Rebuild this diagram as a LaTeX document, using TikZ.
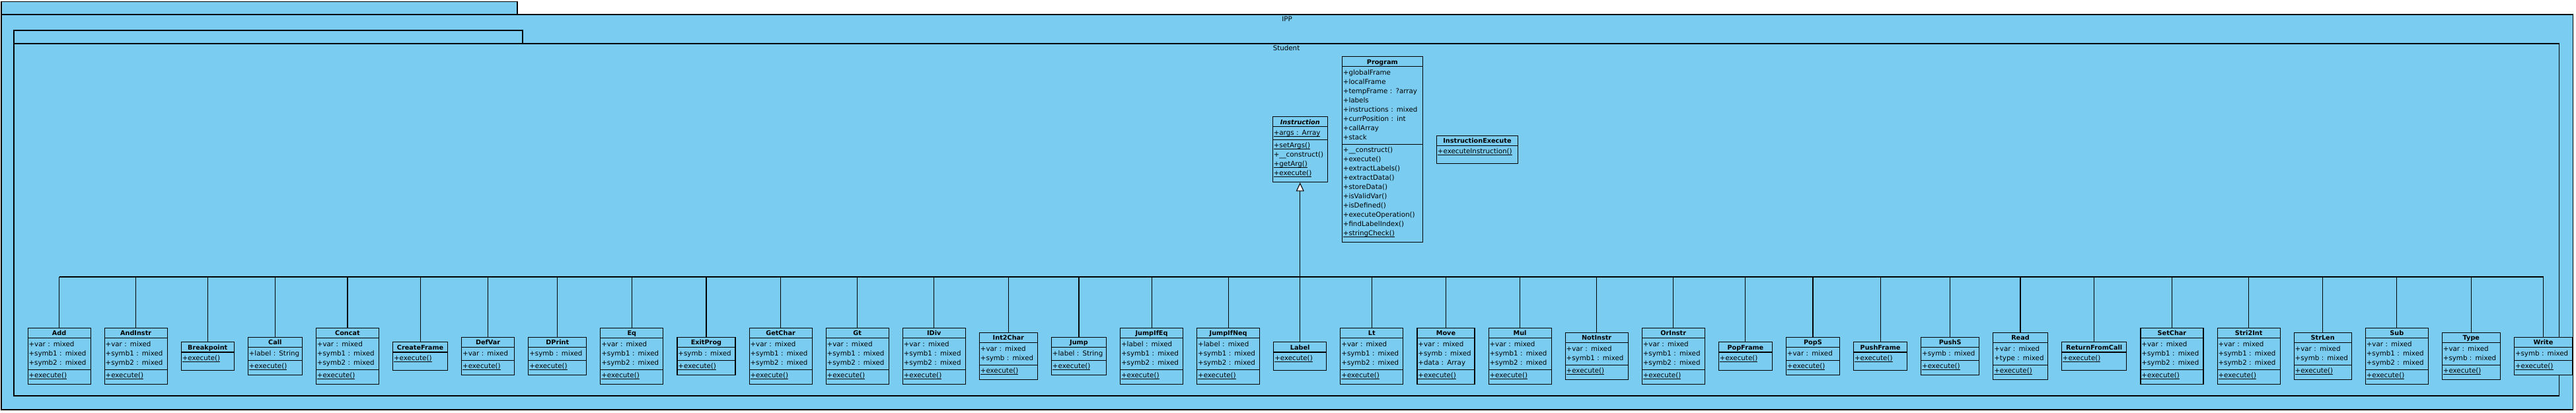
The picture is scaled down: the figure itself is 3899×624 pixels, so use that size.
\documentclass[tikz,border=0pt]{standalone}
\usepackage{fontspec}
\setmainfont{DejaVu Sans}
\usetikzlibrary{positioning, shapes.multipart, arrows.meta}
\definecolor{umlblue}{RGB}{122,205,241}

\newsavebox{\cstatbox}
\newcommand{\ctitle}[1]{\centering\rule[-3pt]{0pt}{14pt}{\fontsize{9.7}{14}\selectfont\bfseries #1}\par}
\newcommand{\cattr}[1]{\rule{0pt}{12.5pt}#1\rule[-6.5pt]{0pt}{0pt}}
\newcommand{\cops}[1]{\rule{0pt}{11.5pt}#1\rule[-9.5pt]{0pt}{0pt}}
\newcommand{\conly}[1]{\rule{0pt}{11.5pt}#1\rule[-14.5pt]{0pt}{0pt}}
\newcommand{\cstatic}[1]{\leavevmode\sbox\cstatbox{#1}\rlap{\rule[-2.5pt]{\wd\cstatbox}{0.9pt}}\usebox\cstatbox}

\begin{document}
\begin{tikzpicture}[
    x=1pt, y=-1pt,
    node distance=20pt,
    classbox/.style={draw, fill=umlblue, line width=1.1pt, rectangle split, rectangle split parts=3, inner xsep=1.5pt, inner ysep=0pt, align=left, font=\fontsize{10.3}{14}\selectfont},
    plainbox/.style={classbox, rectangle split parts=2},
    pkg/.style={draw, fill=umlblue, line width=1.1pt},
    pkgname/.style={inner sep=0pt, font=\fontsize{10.3}{12}\selectfont},
    link/.style={draw, line width=1.1pt},
    arrow/.style={-{Triangle[length=13pt, width=12pt, fill=white]}, line width=1.1pt}
]
\useasboundingbox (0,0) rectangle (3899,624);

% packages
\draw[pkg] (2,2.5) rectangle (783,22);
\draw[pkg] (2,22) rectangle (3894,620);
\node[pkgname] (ipp) at (1948,29) {IPP};
\draw[pkg] (21,46) rectangle (791,66);
\draw[pkg] (21,66) rectangle (3873,599);
\node[pkgname] (student) at (1947,73) {Student};

% instruction classes
\node[classbox, text width=92pt, anchor=west] (add) at (41.5,539) {\ctitle{Add}\nodepart{two}\cattr{+var : mixed\\+symb1 : mixed\\+symb2 : mixed}\nodepart{three}\cops{\cstatic{+execute()}}};
\node[classbox, text width=92pt, right=of add] (andinstr) {\ctitle{AndInstr}\nodepart{two}\cattr{+var : mixed\\+symb1 : mixed\\+symb2 : mixed}\nodepart{three}\cops{\cstatic{+execute()}}};
\node[plainbox, text width=77pt, right=of andinstr] (breakpoint) {\ctitle{Breakpoint}\nodepart{two}\conly{\cstatic{+execute()}}};
\node[classbox, text width=79pt, right=of breakpoint] (call) {\ctitle{Call}\nodepart{two}\cattr{+label : String}\nodepart{three}\cops{\cstatic{+execute()}}};
\node[classbox, text width=92pt, right=of call] (concat) {\ctitle{Concat}\nodepart{two}\cattr{+var : mixed\\+symb1 : mixed\\+symb2 : mixed}\nodepart{three}\cops{\cstatic{+execute()}}};
\node[plainbox, text width=80pt, right=of concat] (createframe) {\ctitle{CreateFrame}\nodepart{two}\conly{\cstatic{+execute()}}};
\node[classbox, text width=77pt, right=of createframe] (defvar) {\ctitle{DefVar}\nodepart{two}\cattr{+var : mixed}\nodepart{three}\cops{\cstatic{+execute()}}};
\node[classbox, text width=85pt, right=of defvar] (dprint) {\ctitle{DPrint}\nodepart{two}\cattr{+symb : mixed}\nodepart{three}\cops{\cstatic{+execute()}}};
\node[classbox, text width=92pt, right=of dprint] (eq) {\ctitle{Eq}\nodepart{two}\cattr{+var : mixed\\+symb1 : mixed\\+symb2 : mixed}\nodepart{three}\cops{\cstatic{+execute()}}};
\node[classbox, text width=85pt, right=of eq] (exitprog) {\ctitle{ExitProg}\nodepart{two}\cattr{+symb : mixed}\nodepart{three}\cops{\cstatic{+execute()}}};
\node[classbox, text width=92pt, right=of exitprog] (getchar) {\ctitle{GetChar}\nodepart{two}\cattr{+var : mixed\\+symb1 : mixed\\+symb2 : mixed}\nodepart{three}\cops{\cstatic{+execute()}}};
\node[classbox, text width=92pt, right=of getchar] (gt) {\ctitle{Gt}\nodepart{two}\cattr{+var : mixed\\+symb1 : mixed\\+symb2 : mixed}\nodepart{three}\cops{\cstatic{+execute()}}};
\node[classbox, text width=92pt, right=of gt] (idiv) {\ctitle{IDiv}\nodepart{two}\cattr{+var : mixed\\+symb1 : mixed\\+symb2 : mixed}\nodepart{three}\cops{\cstatic{+execute()}}};
\node[classbox, text width=85pt, right=of idiv] (int2char) {\ctitle{Int2Char}\nodepart{two}\cattr{+var : mixed\\+symb : mixed}\nodepart{three}\cops{\cstatic{+execute()}}};
\node[classbox, text width=80pt, right=of int2char] (jump) {\ctitle{Jump}\nodepart{two}\cattr{+label : String}\nodepart{three}\cops{\cstatic{+execute()}}};
\node[classbox, text width=92pt, right=of jump] (jumpifeq) {\ctitle{JumpIfEq}\nodepart{two}\cattr{+label : mixed\\+symb1 : mixed\\+symb2 : mixed}\nodepart{three}\cops{\cstatic{+execute()}}};
\node[classbox, text width=92pt, right=of jumpifeq] (jumpifneq) {\ctitle{JumpIfNeq}\nodepart{two}\cattr{+label : mixed\\+symb1 : mixed\\+symb2 : mixed}\nodepart{three}\cops{\cstatic{+execute()}}};
\node[plainbox, text width=77pt, right=of jumpifneq] (label) {\ctitle{Label}\nodepart{two}\conly{\cstatic{+execute()}}};
\node[classbox, text width=92pt, right=of label] (lt) {\ctitle{Lt}\nodepart{two}\cattr{+var : mixed\\+symb1 : mixed\\+symb2 : mixed}\nodepart{three}\cops{\cstatic{+execute()}}};
\node[classbox, text width=84pt, right=of lt] (move) {\ctitle{Move}\nodepart{two}\cattr{+var : mixed\\+symb : mixed\\+data : Array}\nodepart{three}\cops{\cstatic{+execute()}}};
\node[classbox, text width=92pt, right=of move] (mul) {\ctitle{Mul}\nodepart{two}\cattr{+var : mixed\\+symb1 : mixed\\+symb2 : mixed}\nodepart{three}\cops{\cstatic{+execute()}}};
\node[classbox, text width=92pt, right=of mul] (notinstr) {\ctitle{NotInstr}\nodepart{two}\cattr{+var : mixed\\+symb1 : mixed}\nodepart{three}\cops{\cstatic{+execute()}}};
\node[classbox, text width=92pt, right=of notinstr] (orinstr) {\ctitle{OrInstr}\nodepart{two}\cattr{+var : mixed\\+symb1 : mixed\\+symb2 : mixed}\nodepart{three}\cops{\cstatic{+execute()}}};
\node[plainbox, text width=78pt, right=of orinstr] (popframe) {\ctitle{PopFrame}\nodepart{two}\conly{\cstatic{+execute()}}};
\node[classbox, text width=78pt, right=of popframe] (pops) {\ctitle{PopS}\nodepart{two}\cattr{+var : mixed}\nodepart{three}\cops{\cstatic{+execute()}}};
\node[plainbox, text width=78pt, right=of pops] (pushframe) {\ctitle{PushFrame}\nodepart{two}\conly{\cstatic{+execute()}}};
\node[classbox, text width=85pt, right=of pushframe] (pushs) {\ctitle{PushS}\nodepart{two}\cattr{+symb : mixed}\nodepart{three}\cops{\cstatic{+execute()}}};
\node[classbox, text width=79.5pt, right=of pushs] (read) {\ctitle{Read}\nodepart{two}\cattr{+var : mixed\\+type : mixed}\nodepart{three}\cops{\cstatic{+execute()}}};
\node[plainbox, text width=95.5pt, right=of read] (returnfromcall) {\ctitle{ReturnFromCall}\nodepart{two}\conly{\cstatic{+execute()}}};
\node[classbox, text width=92pt, right=of returnfromcall] (setchar) {\ctitle{SetChar}\nodepart{two}\cattr{+var : mixed\\+symb1 : mixed\\+symb2 : mixed}\nodepart{three}\cops{\cstatic{+execute()}}};
\node[classbox, text width=92pt, right=of setchar] (stri2int) {\ctitle{Stri2Int}\nodepart{two}\cattr{+var : mixed\\+symb1 : mixed\\+symb2 : mixed}\nodepart{three}\cops{\cstatic{+execute()}}};
\node[classbox, text width=84pt, right=of stri2int] (strlen) {\ctitle{StrLen}\nodepart{two}\cattr{+var : mixed\\+symb : mixed}\nodepart{three}\cops{\cstatic{+execute()}}};
\node[classbox, text width=92pt, right=of strlen] (sub) {\ctitle{Sub}\nodepart{two}\cattr{+var : mixed\\+symb1 : mixed\\+symb2 : mixed}\nodepart{three}\cops{\cstatic{+execute()}}};
\node[classbox, text width=85pt, right=of sub] (type) {\ctitle{Type}\nodepart{two}\cattr{+var : mixed\\+symb : mixed}\nodepart{three}\cops{\cstatic{+execute()}}};
\node[classbox, text width=85pt, right=of type] (write) {\ctitle{Write}\nodepart{two}\cattr{+symb : mixed}\nodepart{three}\cops{\cstatic{+execute()}}};

% top classes
\node[classbox, text width=80pt, above=241pt of label] (instr) {\ctitle{\itshape Instruction}\nodepart{two}\cattr{\cstatic{+args : Array}}\nodepart{three}\cops{\cstatic{+setArgs()}\\+\_\_construct()\\\cstatic{+getArg()}\\\cstatic{+execute()}}};
\node[classbox, text width=119pt, right=21pt of instr] (program) {\ctitle{Program}\nodepart{two}\cattr{+globalFrame\\+localFrame\\+tempFrame : ?array\\+labels\\+instructions : mixed\\+currPosition : int\\+callArray\\+stack}\nodepart{three}\cops{+\_\_construct()\\+execute()\\+extractLabels()\\+extractData()\\+storeData()\\+isValidVar()\\+isDefined()\\+executeOperation()\\+findLabelIndex()\\\cstatic{+stringCheck()}}};
\node[plainbox, text width=120pt, right=of program] (instrexec) {\ctitle{InstructionExecute}\nodepart{two}\conly{\cstatic{+executeInstruction()}}};

% generalization tree
\coordinate (bus) at (0,419);
\draw[link] (add.north |- bus) -- (write.north |- bus);
\draw[link] (add.north) -- (add.north |- bus);
\draw[link] (andinstr.north) -- (andinstr.north |- bus);
\draw[link] (breakpoint.north) -- (breakpoint.north |- bus);
\draw[link] (call.north) -- (call.north |- bus);
\draw[link] (concat.north) -- (concat.north |- bus);
\draw[link] (createframe.north) -- (createframe.north |- bus);
\draw[link] (defvar.north) -- (defvar.north |- bus);
\draw[link] (dprint.north) -- (dprint.north |- bus);
\draw[link] (eq.north) -- (eq.north |- bus);
\draw[link] (exitprog.north) -- (exitprog.north |- bus);
\draw[link] (getchar.north) -- (getchar.north |- bus);
\draw[link] (gt.north) -- (gt.north |- bus);
\draw[link] (idiv.north) -- (idiv.north |- bus);
\draw[link] (int2char.north) -- (int2char.north |- bus);
\draw[link] (jump.north) -- (jump.north |- bus);
\draw[link] (jumpifeq.north) -- (jumpifeq.north |- bus);
\draw[link] (jumpifneq.north) -- (jumpifneq.north |- bus);
\draw[link] (lt.north) -- (lt.north |- bus);
\draw[link] (move.north) -- (move.north |- bus);
\draw[link] (mul.north) -- (mul.north |- bus);
\draw[link] (notinstr.north) -- (notinstr.north |- bus);
\draw[link] (orinstr.north) -- (orinstr.north |- bus);
\draw[link] (popframe.north) -- (popframe.north |- bus);
\draw[link] (pops.north) -- (pops.north |- bus);
\draw[link] (pushframe.north) -- (pushframe.north |- bus);
\draw[link] (pushs.north) -- (pushs.north |- bus);
\draw[link] (read.north) -- (read.north |- bus);
\draw[link] (returnfromcall.north) -- (returnfromcall.north |- bus);
\draw[link] (setchar.north) -- (setchar.north |- bus);
\draw[link] (stri2int.north) -- (stri2int.north |- bus);
\draw[link] (strlen.north) -- (strlen.north |- bus);
\draw[link] (sub.north) -- (sub.north |- bus);
\draw[link] (type.north) -- (type.north |- bus);
\draw[link] (write.north) -- (write.north |- bus);
\draw[arrow] (label.north) -- (instr.south);
\end{tikzpicture}
\end{document}
